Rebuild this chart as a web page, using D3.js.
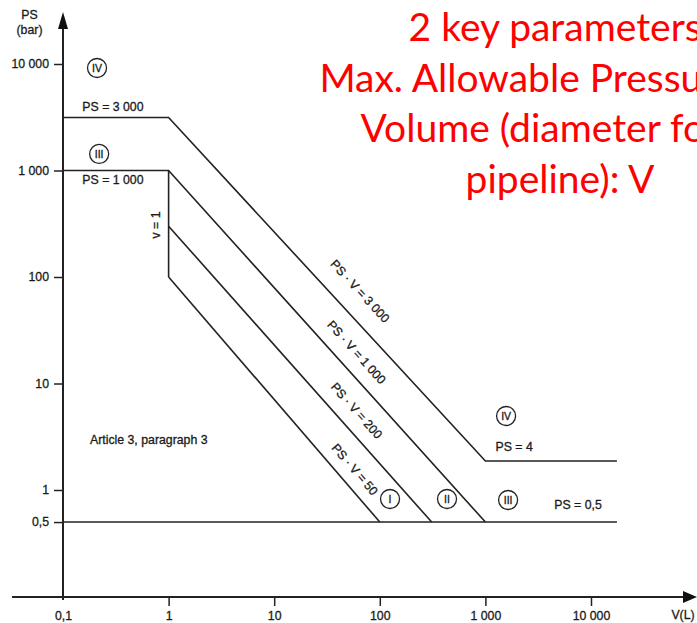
<!DOCTYPE html>
<html>
<head>
<meta charset="utf-8">
<script src="https://d3js.org/d3.v7.min.js"></script>
<style>
  body { margin: 0; background: #fff; overflow: hidden; }
  svg { display: block; }
  .lbl { font-family: "Liberation Sans", Arial, sans-serif; font-size: 12.3px; fill: #1a1a1a; stroke: #1a1a1a; stroke-width: 0.3; }
  .tick text { font-family: "Liberation Sans", Arial, sans-serif; font-size: 12.3px; fill: #1a1a1a; stroke: #1a1a1a; stroke-width: 0.3; }
  .tick line { stroke: #222; stroke-width: 1.5; }
  .red { font-family: Lato, "Open Sans", sans-serif; font-size: 39px; fill: #ff0000; }
</style>
</head>
<body>
<svg id="chart" width="697" height="623"></svg>
<script>
// axis ticks (log scales)
const xTicks = [0.1, 1, 10, 100, 1000, 10000];
const xTickLabels = ["0,1", "1", "10", "100", "1 000", "10 000"];
const yTicks = [0.5, 1, 10, 100, 1000, 10000];
const yTickLabels = ["0,5", "1", "10", "100", "1 000", "10 000"];

// category boundary lines, points are [V (L), PS (bar)]
const lineIV = [[0.1, 3150], [1, 3150], [1000, 1.87], [17600, 1.87]];
const lineIII = [[0.1, 1000], [1, 1000], [1000, 0.5]];
const lineII = [[1, 300], [310, 0.5]];
const lineI = [[1, 100], [100, 0.5]];
const lineV1 = [[1, 1000], [1, 100]];
const lineBase = [[0.1, 0.5], [17600, 0.5]];

// labels along the sloped parts
const diagLabels = ["PS · V = 3 000", "PS · V = 1 000", "PS · V = 200", "PS · V = 50"];

const titleLines = ["2 key parameters:", "Max. Allowable Pressure: PS", "Volume (diameter for", "pipeline): V"];

const svg = d3.select("#chart");
const axisX = 597, axisLeft = 63;

const x = d3.scaleLog().domain([0.1, 10000]).range([63, 591]);
const y = d3.scaleLog().domain([1, 10000]).range([490, 64]);

// axes
const gx = svg.append("g")
  .attr("transform", "translate(0," + axisX + ")")
  .call(d3.axisBottom(x).tickValues(xTicks)
    .tickFormat((d, i) => xTickLabels[i]).tickSize(9).tickPadding(5));
gx.select(".domain").remove();
gx.selectAll(".tick").filter(d => d === 0.1).select("line").remove();

const gy = svg.append("g")
  .attr("transform", "translate(" + axisLeft + ",0)")
  .call(d3.axisLeft(y).tickValues(yTicks)
    .tickFormat((d, i) => yTickLabels[i]).tickSize(9).tickPadding(5));
gy.select(".domain").remove();

// axis lines with arrows
svg.append("line").attr("x1", 12).attr("x2", 690).attr("y1", axisX).attr("y2", axisX)
  .attr("stroke", "#222").attr("stroke-width", 2);
svg.append("path").attr("d", "M683,591 L697,597 L683,603 Z").attr("fill", "#111");
svg.append("line").attr("x1", axisLeft).attr("x2", axisLeft).attr("y1", 600).attr("y2", 20)
  .attr("stroke", "#222").attr("stroke-width", 2);
svg.append("path").attr("d", "M58,29 L63,12 L68,29 Z").attr("fill", "#111");

svg.append("text").attr("class", "lbl").attr("x", 29.5).attr("y", 19)
  .attr("text-anchor", "middle").text("PS");
svg.append("text").attr("class", "lbl").attr("x", 29.5).attr("y", 34)
  .attr("text-anchor", "middle").text("(bar)");
svg.append("text").attr("class", "lbl").attr("x", 683).attr("y", 619)
  .attr("text-anchor", "middle").text("V(L)");

// boundary lines
const line = d3.line().x(d => x(d[0])).y(d => y(d[1]));
[lineIV, lineIII, lineII, lineI, lineV1, lineBase].forEach(pts => {
  svg.append("path").attr("d", line(pts)).attr("fill", "none")
    .attr("stroke", "#222").attr("stroke-width", 1.6);
});

// sloped labels: segment, offset from line; placed at V = 45
const diagSegs = [[lineIV[1], lineIV[2], 23], [lineIII[1], lineIII[2], 18], [lineII[0], lineII[1], 18], [lineI[0], lineI[1], 15.5]];
diagSegs.forEach((s, i) => {
  const a = s[0], b = s[1], v = 45;
  const t = (Math.log(v) - Math.log(a[0])) / (Math.log(b[0]) - Math.log(a[0]));
  const ps = Math.exp(Math.log(a[1]) + t * (Math.log(b[1]) - Math.log(a[1])));
  const ang = Math.atan2(y(b[1]) - y(a[1]), x(b[0]) - x(a[0])) * 180 / Math.PI;
  svg.append("text").attr("class", "lbl")
    .attr("transform", "translate(" + x(v) + "," + y(ps) + ") rotate(" + ang + ")")
    .attr("x", 0).attr("y", -s[2]).attr("dy", "0.35em")
    .attr("text-anchor", "middle").text(diagLabels[i]);
});

// plain text annotations [text, V, PS, anchor]
const notes = [
  ["PS = 3 000", 0.297, 3950, "middle"],
  ["PS = 1 000", 0.297, 815, "middle"],
  ["PS = 4", 1870, 2.53, "middle"],
  ["PS = 0,5", 7530, 0.723, "middle"],
  ["Article 3, paragraph 3", 0.18, 2.95, "start"]
];
notes.forEach(n => {
  svg.append("text").attr("class", "lbl").attr("x", x(n[1])).attr("y", y(n[2]))
    .attr("dy", "0.35em").attr("text-anchor", n[3]).text(n[0]);
});

svg.append("text").attr("class", "lbl")
  .attr("transform", "translate(" + x(0.76) + "," + y(308) + ") rotate(-90)")
  .attr("dy", "0.35em").attr("text-anchor", "middle").text("v = 1");

// circled category numbers [numeral, V, PS]
const cats = [["IV", 0.21, 9170], ["III", 0.22, 1430], ["I", 125, 0.823], ["II", 433, 0.823], ["III", 1640, 0.806], ["IV", 1570, 4.95]];
cats.forEach(c => {
  const g = svg.append("g").attr("transform", "translate(" + x(c[1]) + "," + y(c[2]) + ")");
  g.append("circle").attr("r", 9.5).attr("fill", "none").attr("stroke", "#222").attr("stroke-width", 1.3);
  g.append("text").attr("class", "lbl").style("font-size", "10.5px")
    .attr("text-anchor", "middle").attr("dy", "0.36em").text(c[0]);
});

// red heading (runs off the right edge like the slide it came from)
const titleX = [560, 560, 540, 560];
titleLines.forEach((t, i) => {
  svg.append("text").attr("class", "red").attr("x", titleX[i]).attr("y", 41 + i * 50.5)
    .attr("text-anchor", "middle").text(t);
});
</script>
</body>
</html>
